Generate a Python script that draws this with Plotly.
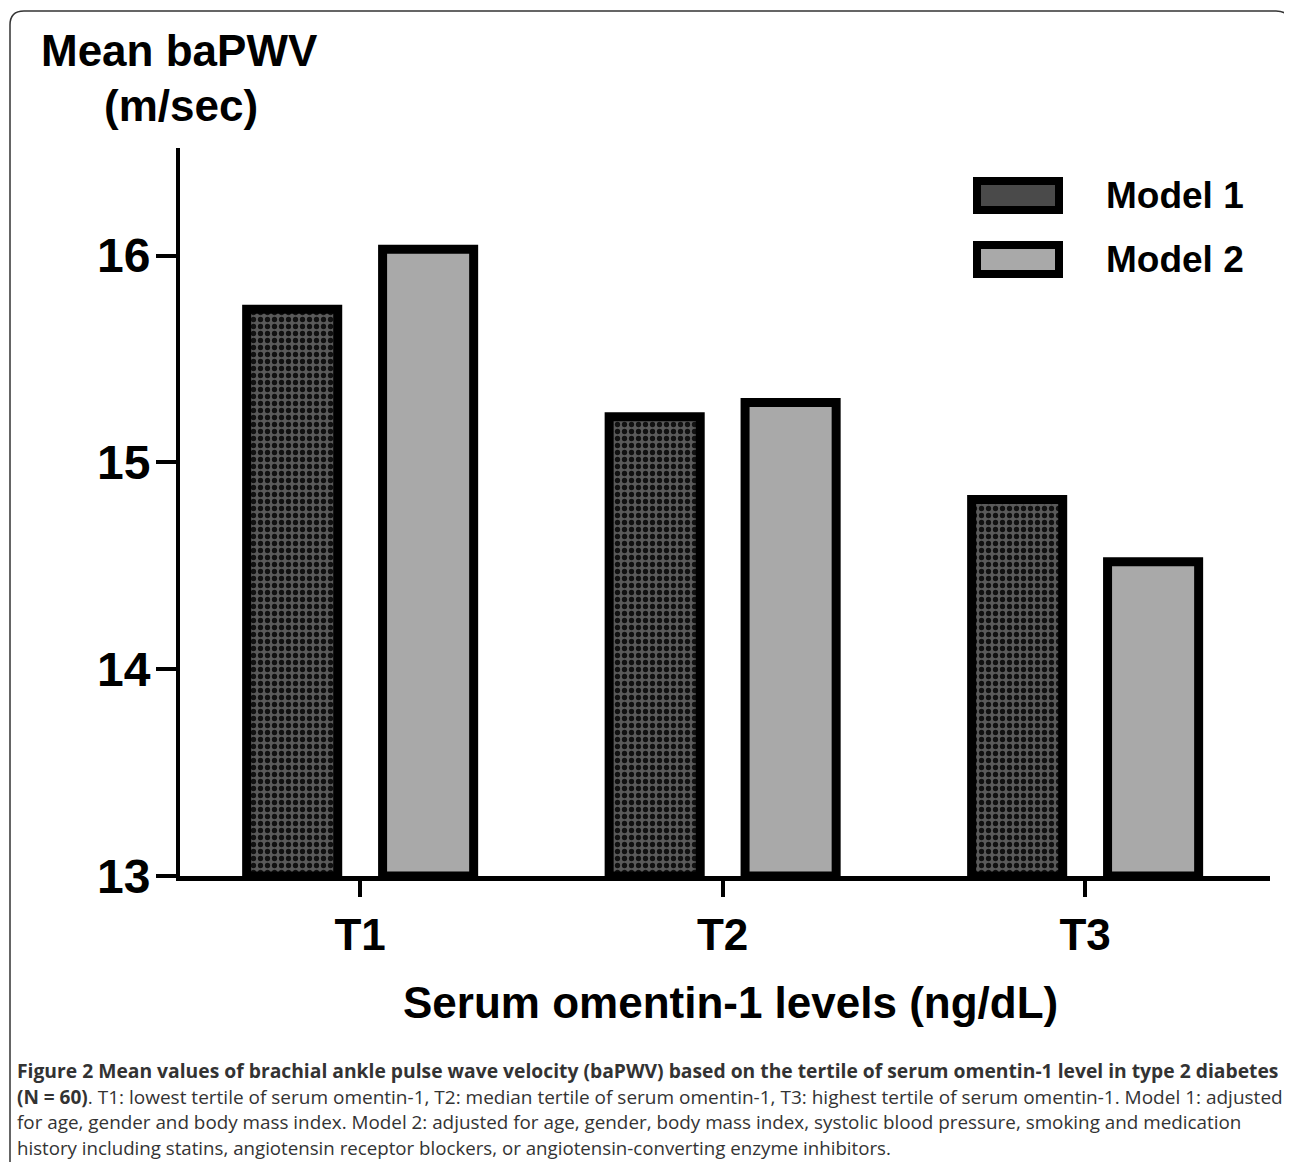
import plotly.graph_objects as go

categories = ["T1", "T2", "T3"]
model1 = [15.74, 15.22, 14.82]
model2 = [16.03, 15.29, 14.52]
series_names = ["Model 1", "Model 2"]
y_ticks = [13, 14, 15, 16]

OFF = 8  # page body margin
W, H = 1292 - OFF, 1162 - OFF
L, R, T, B = 180, 1270, 148, 876  # plot area in reference pixels


def px(x):
    return (x - L) / (R - L)


def py(y):
    return (B - y) / (B - T)


fig = go.Figure()
fig.add_trace(go.Bar(
    x=categories, y=[v - 13 for v in model1], base=13, name=series_names[0],
    marker=dict(color="#555555",
                line=dict(color="black", width=9),
                pattern=dict(shape=".", bgcolor="#5a5a5a", fgcolor="#111111",
                             size=7, solidity=0.45, fillmode="replace")),
    showlegend=False,
))
fig.add_trace(go.Bar(
    x=categories, y=[v - 13 for v in model2], base=13, name=series_names[1],
    marker=dict(color="#a9a9a9", line=dict(color="black", width=9)),
    showlegend=False,
))

axis_font = dict(family="Liberation Sans, Arial, sans-serif", color="black", weight="bold")

fig.update_layout(
    width=W, height=H, autosize=False,
    margin=dict(l=L - OFF, r=W - (R - OFF), t=T - OFF, b=H - (B - OFF), pad=0),
    paper_bgcolor="white", plot_bgcolor="white",
    barmode="group", bargap=0.25, bargroupgap=0.33,
    xaxis=dict(
        range=[-0.497, 2.51], showgrid=False, zeroline=False,
        showline=True, linecolor="black", linewidth=5,
        ticks="outside", ticklen=16, tickwidth=4, tickcolor="black",
        tickfont=dict(size=44, **axis_font), ticklabelstandoff=0,
    ),
    yaxis=dict(
        range=[13, 16.52], showgrid=False, zeroline=False,
        showline=True, linecolor="black", linewidth=4,
        ticks="outside", ticklen=20, tickwidth=4, tickcolor="black",
        tickvals=y_ticks, ticktext=[str(v) for v in y_ticks],
        tickfont=dict(size=48, **axis_font), ticklabelstandoff=-4,
    ),
)

bold = dict(family="Liberation Sans, Arial, sans-serif", color="black")
ann = [
    dict(text="<b>Mean baPWV</b>", x=px(179), y=py(50), size=44),
    dict(text="<b>(m/sec)</b>", x=px(181), y=py(105), size=44),
    dict(text="<b>Serum omentin-1 levels (ng/dL)</b>", x=px(730), y=py(1002), size=44),
]
for a in ann:
    fig.add_annotation(text=a["text"], x=a["x"], y=a["y"], xref="paper", yref="paper",
                       xanchor="center", yanchor="middle", showarrow=False,
                       font=dict(size=a["size"], **bold))

# legend
legend_fill = ["#4a4a4a", "#a9a9a9"]
legend_y = [(177, 214), (241, 278)]
for name, fillc, (y0, y1) in zip(series_names, legend_fill, legend_y):
    fig.add_shape(type="rect", xref="paper", yref="paper",
                  x0=px(977), x1=px(1059), y0=py(y1 - 4), y1=py(y0 + 4),
                  line=dict(color="black", width=8), fillcolor=fillc, layer="above")
    fig.add_annotation(text="<b>%s</b>" % name, x=px(1104), y=py((y0 + y1) / 2),
                       xref="paper", yref="paper", xanchor="left", yanchor="middle",
                       showarrow=False, font=dict(size=37, **bold))

# outer rounded border
r = 14
x0b, x1b, y0b, y1b = 10, 1290, 11, 1190
path = (f"M {px(x0b)},{py(y1b)} L {px(x0b)},{py(y0b + r)} "
        f"Q {px(x0b)},{py(y0b)} {px(x0b + r)},{py(y0b)} "
        f"L {px(x1b - r)},{py(y0b)} "
        f"Q {px(x1b)},{py(y0b)} {px(x1b)},{py(y0b + r)} "
        f"L {px(x1b)},{py(y1b)}")
fig.add_shape(type="path", path=path, xref="paper", yref="paper",
              line=dict(color="#333333", width=1.5))

# caption
cap_lines = [
    "<b>Figure 2 Mean values of brachial ankle pulse wave velocity (baPWV) based on the tertile of serum omentin-1 level in type 2 diabetes</b>",
    "<b>(N = 60)</b>. T1: lowest tertile of serum omentin-1, T2: median tertile of serum omentin-1, T3: highest tertile of serum omentin-1. Model 1: adjusted",
    "for age, gender and body mass index. Model 2: adjusted for age, gender, body mass index, systolic blood pressure, smoking and medication",
    "history including statins, angiotensin receptor blockers, or angiotensin-converting enzyme inhibitors.",
]
cap_sizes = [19.3, 19.0, 18.85, 18.7]
cap_y = [1070, 1097, 1122, 1147]
for line, yy, sz in zip(cap_lines, cap_y, cap_sizes):
    fig.add_annotation(text=line, x=px(15), y=py(yy), xref="paper", yref="paper",
                       xanchor="left", yanchor="middle", showarrow=False,
                       font=dict(family="Open Sans, Noto Sans, sans-serif", size=sz,
                                 color="#333333"))

fig.write_html("out.html")
